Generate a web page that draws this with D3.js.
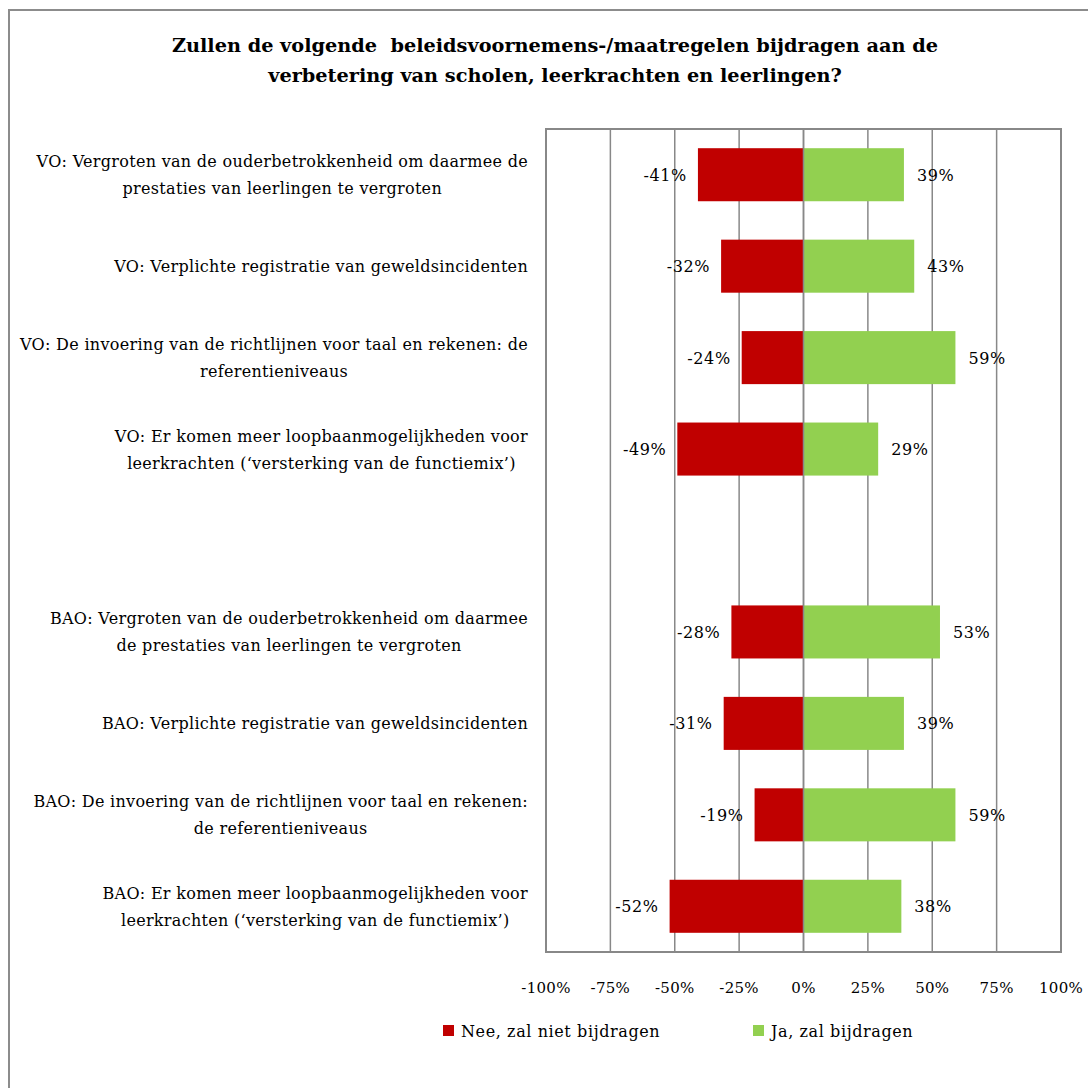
<!DOCTYPE html>
<html>
<head>
<meta charset="utf-8">
<script src="https://cdn.jsdelivr.net/npm/d3@7"></script>
<style>
  body { margin: 0; background: #fff; }
  text { font-family: "DejaVu Serif", serif; fill: #000; }
</style>
</head>
<body>
<div id="chart"></div>
<script>
// --- DATA ---
const categories = [
  ["VO: Vergroten van de ouderbetrokkenheid om daarmee de", "prestaties van leerlingen te vergroten"],
  ["VO: Verplichte registratie van geweldsincidenten"],
  ["VO: De invoering van de richtlijnen voor taal en rekenen: de", "referentieniveaus"],
  ["VO: Er komen meer loopbaanmogelijkheden voor", "leerkrachten (‘versterking van de functiemix’)"],
  [],
  ["BAO: Vergroten van de ouderbetrokkenheid om daarmee", "de prestaties van leerlingen te vergroten"],
  ["BAO: Verplichte registratie van geweldsincidenten"],
  ["BAO: De invoering van de richtlijnen voor taal en rekenen:", "de referentieniveaus"],
  ["BAO: Er komen meer loopbaanmogelijkheden voor", "leerkrachten (‘versterking van de functiemix’)"]
];
const nee = [-41, -32, -24, -49, null, -28, -31, -19, -52];
const ja = [39, 43, 59, 29, null, 53, 39, 59, 38];
const xTicks = [-100, -75, -50, -25, 0, 25, 50, 75, 100];
const seriesNames = ["Nee, zal niet bijdragen", "Ja, zal bijdragen"];
const colors = ["#c00000", "#92d050"];
const titleLines = [
  "Zullen de volgende  beleidsvoornemens-/maatregelen bijdragen aan de",
  "verbetering van scholen, leerkrachten en leerlingen?"
];

// --- SETUP ---
const width = 1088;
const height = 1088;
const plot = { left: 546, right: 1061, top: 129, bottom: 952 };
const gridColor = "#888";

const svg = d3.select("#chart").append("svg")
  .attr("width", width)
  .attr("height", height);

svg.append("rect").attr("width", width).attr("height", height).attr("fill", "#fff");

// outer chart border (runs off the right/bottom edge like the original)
svg.append("rect")
  .attr("x", 9).attr("y", 10)
  .attr("width", 1200).attr("height", 1200)
  .attr("fill", "none")
  .attr("stroke", "#8c8c8c")
  .attr("stroke-width", 2);

const x = d3.scaleLinear().domain([-100, 100]).range([plot.left, plot.right]);
const y = d3.scaleBand()
  .domain(d3.range(categories.length))
  .range([plot.top, plot.bottom])
  .paddingInner(0.42)
  .paddingOuter(0.21);

// --- TITLE ---
svg.append("text")
  .attr("x", 555)
  .attr("y", 52)
  .attr("text-anchor", "middle")
  .style("font-size", "19.3px")
  .style("font-weight", "bold")
  .selectAll("tspan")
  .data(titleLines)
  .join("tspan")
  .attr("x", 555)
  .attr("dy", (d, i) => i === 0 ? 0 : 30)
  .style("white-space", "pre")
  .text(d => d);

// --- GRID + PLOT BORDER ---
svg.append("g")
  .selectAll("line")
  .data(xTicks)
  .join("line")
  .attr("x1", d => x(d)).attr("x2", d => x(d))
  .attr("y1", plot.top).attr("y2", plot.bottom)
  .attr("stroke", gridColor)
  .attr("stroke-width", 1.5);

svg.append("rect")
  .attr("x", plot.left).attr("y", plot.top)
  .attr("width", plot.right - plot.left)
  .attr("height", plot.bottom - plot.top)
  .attr("fill", "none")
  .attr("stroke", gridColor)
  .attr("stroke-width", 2);

// --- BARS ---
const rows = d3.range(categories.length).filter(i => nee[i] !== null);

[nee, ja].forEach((vals, s) => {
  svg.append("g")
    .selectAll("rect")
    .data(rows)
    .join("rect")
    .attr("x", i => x(Math.min(0, vals[i])))
    .attr("y", i => y(i))
    .attr("width", i => Math.abs(x(vals[i]) - x(0)))
    .attr("height", y.bandwidth())
    .attr("fill", colors[s]);

  // data labels, outside end of each bar
  svg.append("g")
    .selectAll("text")
    .data(rows)
    .join("text")
    .attr("x", i => vals[i] < 0 ? x(vals[i]) - 11 : x(vals[i]) + 13)
    .attr("y", i => y(i) + y.bandwidth() / 2 + 6)
    .attr("text-anchor", s === 0 ? "end" : "start")
    .style("font-size", "16px")
    .style("letter-spacing", "0.6px")
    .text(i => vals[i] + "%");
});

// zero line drawn over the bars
svg.append("line")
  .attr("x1", x(0)).attr("x2", x(0))
  .attr("y1", plot.top).attr("y2", plot.bottom)
  .attr("stroke", gridColor)
  .attr("stroke-width", 1.5);

// --- X AXIS LABELS ---
svg.append("g")
  .selectAll("text")
  .data(xTicks)
  .join("text")
  .attr("x", d => x(d))
  .attr("y", 993)
  .attr("text-anchor", "middle")
  .style("font-size", "15px")
  .style("letter-spacing", "0.3px")
  .text(d => d + "%");

// --- CATEGORY LABELS (centred block, right edge at 528) ---
const labelRight = 528;
const lineGap = 27;
categories.forEach((lines, i) => {
  if (lines.length === 0) return;
  const g = svg.append("g");
  const cy = y(i) + y.bandwidth() / 2;
  const texts = g.selectAll("text")
    .data(lines)
    .join("text")
    .attr("y", (d, k) => cy + 6 + (k - (lines.length - 1) / 2) * lineGap)
    .attr("text-anchor", "middle")
    .style("font-size", "16px")
    .style("letter-spacing", "0.3px")
    .text(d => d);
  let maxW = 0;
  texts.each(function() { maxW = Math.max(maxW, this.getComputedTextLength()); });
  texts.attr("x", labelRight - maxW / 2);
});

// --- LEGEND ---
const legendX = [443, 753];
seriesNames.forEach((name, s) => {
  const g = svg.append("g").attr("transform", `translate(${legendX[s]},1025)`);
  g.append("rect")
    .attr("width", 11).attr("height", 11)
    .attr("fill", colors[s]);
  g.append("text")
    .attr("x", 18)
    .attr("y", 12)
    .style("font-size", "16px")
    .style("letter-spacing", "0.6px")
    .text(name);
});
</script>
</body>
</html>
